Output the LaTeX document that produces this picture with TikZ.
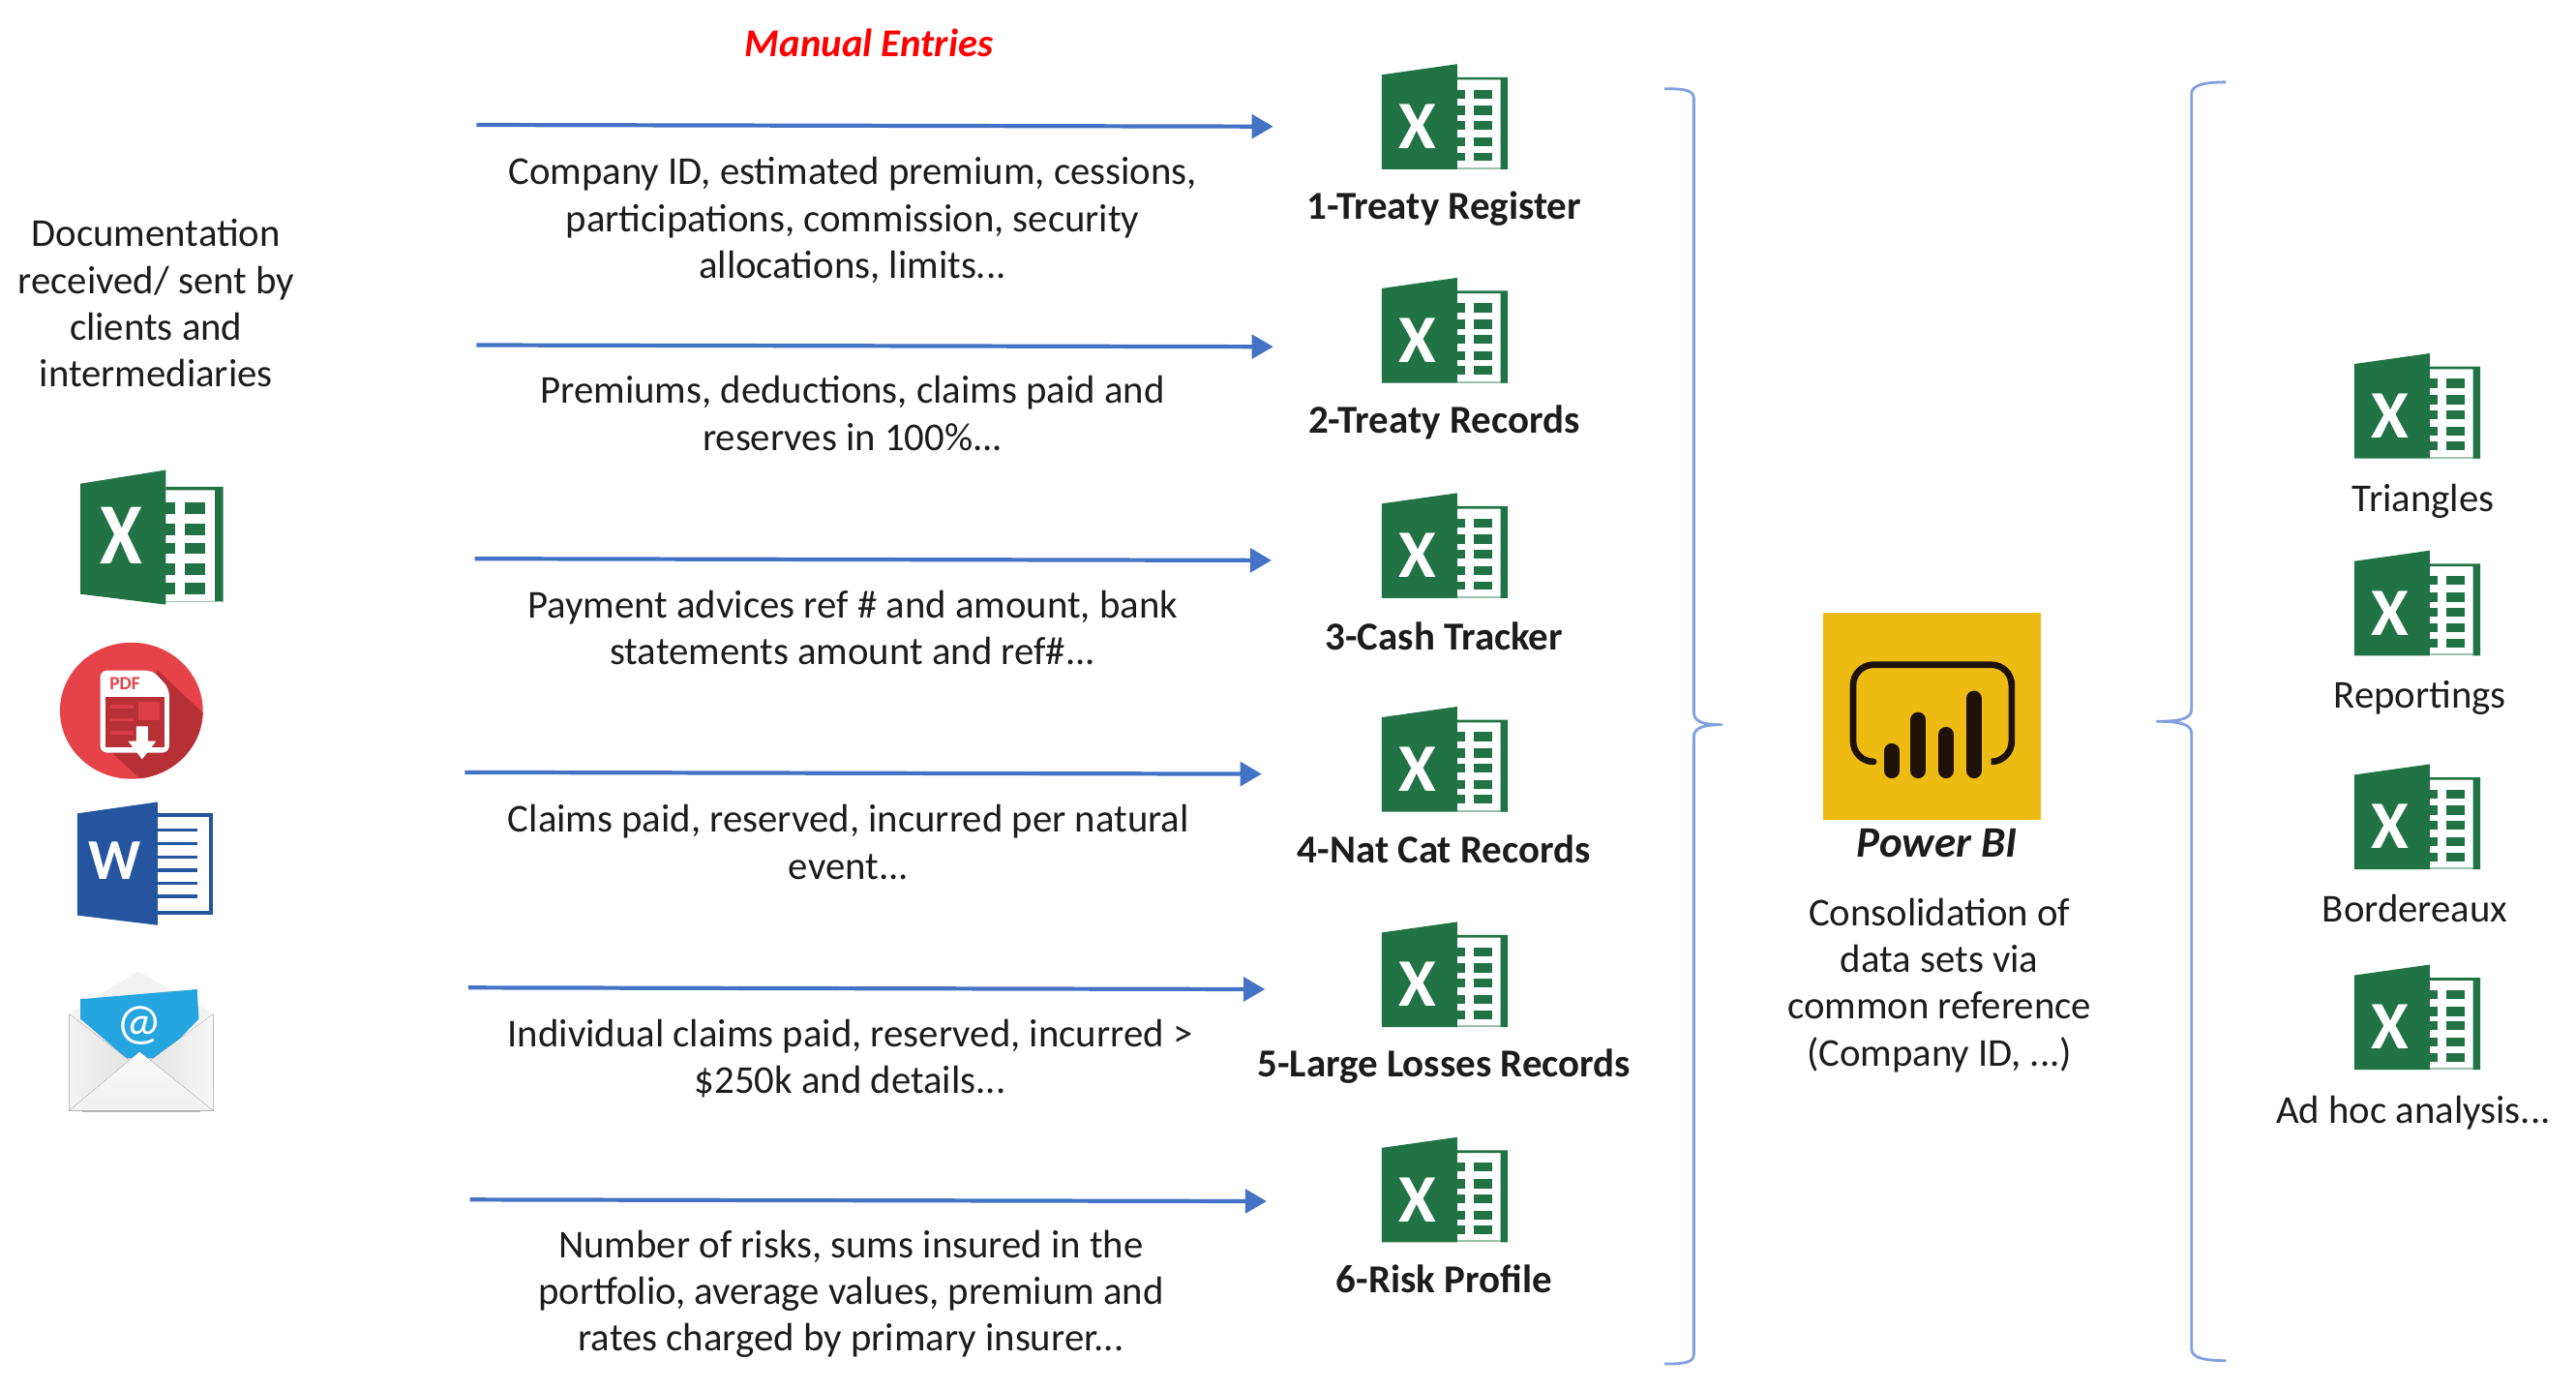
\documentclass[tikz,border=0pt]{standalone}
\usepackage{fontspec}
\setmainfont{Carlito}
\usetikzlibrary{arrows.meta,positioning}
\definecolor{xlgreen}{RGB}{33,115,70}
\definecolor{wdblue}{RGB}{38,85,160}
\definecolor{pdfred}{RGB}{229,66,74}
\definecolor{pdfdark}{RGB}{182,48,54}
\definecolor{mailblue}{RGB}{38,166,224}
\definecolor{arrowblue}{RGB}{68,114,196}
\definecolor{bracketblue}{RGB}{130,160,222}
\definecolor{pbiyellow}{RGB}{237,187,17}
\definecolor{pbidark}{RGB}{30,18,8}
\definecolor{txtblack}{RGB}{28,28,28}
\tikzset{
	xlslant/.initial=0,
	xlmarky/.initial=38,
	bodytext/.style={align=center,font=\fontsize{11.6}{13.75}\selectfont,text=txtblack,inner sep=0pt},
	xllabel/.style={bodytext,font=\fontsize{11.65}{13.75}\selectfont\bfseries},
	bracket/.style={bracketblue,line width=.8pt},
	xlicon/.pic={
		\fill[xlgreen!45] (46,62.8) rectangle (76.8,64-\pgfkeysvalueof{/tikz/xlslant}*.35);
		\fill[xlgreen] (46,8)--(76.8,8)--(76.8,64-\pgfkeysvalueof{/tikz/xlslant}*.35)--(72.4,64-\pgfkeysvalueof{/tikz/xlslant}*.35)--(72.4,9.6)--(46,9.6)--cycle;
		\fill[xlgreen] (0,6.5)--(46,0)--(46,64)--(0,64-\pgfkeysvalueof{/tikz/xlslant})--cycle;
		\foreach \ya/\yb in {15.5/21,25.3/31.2,34.7/40,44.6/49.9,53.8/59}{
			\fill[xlgreen] (46,\ya) rectangle (51,\yb);
			\fill[xlgreen] (56,\ya) rectangle (67.3,\yb);
		}
		\node[transform shape,text=white,inner sep=0pt,font=\fontsize{20}{20}\selectfont\bfseries] (-mark) at (22,\pgfkeysvalueof{/tikz/xlmarky}) {X};
	}
}
\begin{document}
\begin{tikzpicture}[x=.016977cm,y=-.016977cm,line join=round,>={Triangle[length=6.3pt,width=7pt]}]
	\useasboundingbox (0,0) rectangle (1568,845.3);
	% manual entries column
	\node[font=\fontsize{11.6}{14}\selectfont\bfseries\itshape,text=red,inner sep=0pt] (manual) at (529,26) {Manual Entries};
	\foreach \i/\xa/\ya/\xb/\yb in {1/290/76/775/77,2/290/210/775/211,3/289/340/774/341,4/283/470/768/471,5/285/601/770/602,6/286/730/771/731}{
		\coordinate (s\i) at (\xa,\ya);
		\coordinate (e\i) at (\xb,\yb);
		\draw[->,arrowblue,line width=1.2pt] (s\i)--(e\i);
	}
	\node[bodytext] (t1) at (519,134) {Company ID, estimated premium, cessions,\\participations, commission, security\\allocations, limits...};
	\node[bodytext] (t2) at (519,251.5) {Premiums, deductions, claims paid and\\reserves in 100\%...};
	\node[bodytext] (t3) at (519,382) {Payment advices ref \# and amount, bank\\statements amount and ref\#...};
	\node[bodytext] (t4) at (516.5,512.5) {Claims paid, reserved, incurred per natural\\event...};
	\node[bodytext] (t5) at (517.5,644) {Individual claims paid, reserved, incurred >\\\$250k and details...};
	\node[bodytext] (t6) at (518,787.5) {Number of risks, sums insured in the\\portfolio, average values, premium and\\rates charged by primary insurer...};
	% excel files
	\foreach \i/\yy/\ly/\lab in {1/39/127/1-Treaty Register,2/169/257/2-Treaty Records,3/300/387/3-Cash Tracker,4/430/517/4-Nat Cat Records,5/561/649/5-Large Losses Records,6/692/778/6-Risk Profile}{
		\pic (xl\i) at (841,\yy) {xlicon};
		\node[xllabel] (xlab\i) at (879,\ly) {\lab};
	}
	% documents on the left
	\node[bodytext] (docs) at (95,184.5) {Documentation\\received/ sent by\\clients and\\intermediaries};
	\pic[xscale=1.13,yscale=1.28,xlslant=5,xlmarky=31] (xldoc) at (49,286) {xlicon};
	% pdf
	\begin{scope}
		\clip (80,432.5) ellipse [x radius=43.5,y radius=41.5];
		\fill[pdfred] (30,385) rectangle (130,480);
		\fill[pdfdark] (96,408)--(130,440)--(130,480)--(92,480)--(66,456)--cycle;
	\end{scope}
	\fill[white,rounded corners=2pt] (61,408)--(93,408)--(103,419)--(103,458)--(61,458)--cycle;
	\fill[pdfdark] (64,424) rectangle (100,455);
	\fill[pdfred!80!pdfdark] (84,427) rectangle (97,438);
	\foreach \yy in {429,437,445}{\fill[pdfred!70!pdfdark] (67,\yy) rectangle (81,\yy+2);}
	\node[text=pdfred,inner sep=0pt,font=\fontsize{5.5}{6}\selectfont\bfseries] (pdflab) at (76,416) {PDF};
	\fill[white] (83,442)--(90,442)--(90,451)--(95,451)--(86.5,462)--(78,451)--(83,451)--cycle;
	% word
	\fill[wdblue] (96,495) rectangle (129.5,556.5);
	\fill[white] (96,497) rectangle (127,554.5);
	\fill[wdblue] (47,495)--(96,488)--(96,563)--(47,557)--cycle;
	\foreach \yy in {505,513.5,521.5,529.5,537.5,545.5}{\fill[wdblue] (96,\yy-1) rectangle (120,\yy+1);}
	\node[text=white,inner sep=0pt,font=\fontsize{17}{17}\selectfont\bfseries] (wdmark) at (70,524) {W};
	% mail
	\fill[black!5] (42,617)--(84,591)--(130,617)--(130,660)--(42,660)--cycle;
	\fill[mailblue] (49,608)--(120,602)--(121,620)--(98,644)--(77,644)--(49,620)--cycle;
	\node[text=white,inner sep=0pt,font=\fontsize{15}{15}\selectfont] (atmark) at (85,624) {@};
	\fill[left color=black!5,right color=black!3,middle color=black!12] (42,617)--(85,650)--(130,617)--(130,676)--(42,676)--cycle;
	\fill[top color=black!2,bottom color=black!6] (42,676)--(85,640)--(130,676)--cycle;
	\fill[black!30] (50,675.5) rectangle (122,677);
	% power bi
	\fill[pbiyellow] (1110,373) rectangle (1242,499);
	\draw[pbidark,line width=1.9pt,rounded corners=6pt] (1140,463.5)--(1128,463.5)--(1128,404.5)--(1224.5,404.5)--(1224.5,463.5)--(1212,463.5);
	\foreach \xx/\yy in {1151.5/457,1167.6/438,1184.6/447,1201.5/425}{
		\draw[pbidark,line width=4.5pt,line cap=round] (\xx,\yy)--(\xx,469);
	}
	\node[font=\fontsize{12.8}{14}\selectfont\bfseries\itshape,text=txtblack,inner sep=0pt] (pbi) at (1179,513) {Power BI};
	\node[bodytext] (cons) at (1180.5,599.5) {Consolidation of\\data sets via\\common reference\\(Company ID, ...)};
	% brackets
	\coordinate (la) at (1013,54);
	\coordinate (lb) at (1048,441);
	\coordinate (lc) at (1013,830);
	\draw[bracket] (la) .. controls (1026,54) and (1031,55) .. (1031,60)--(1031,433) .. controls (1031,438) and (1034,441) .. (lb) .. controls (1034,441) and (1031,444) .. (1031,449)--(1031,824) .. controls (1031,829) and (1026,830) .. (lc);
	\coordinate (ra) at (1355,50);
	\coordinate (rb) at (1313,439);
	\coordinate (rc) at (1355,828);
	\draw[bracket] (ra) .. controls (1341,50) and (1334,52) .. (1334,57)--(1334,431) .. controls (1334,436) and (1331,439) .. (rb) .. controls (1331,439) and (1334,442) .. (1334,447)--(1334,821) .. controls (1334,826) and (1341,828) .. (rc);
	% outputs on the right
	\foreach \i/\yy/\xx/\lab/\ly in {1/215/1475/Triangles/305,2/335/1473/Reportings/424.5,3/465/1470/Bordereaux/553,4/587/1469/{Ad hoc analysis...}/677}{
		\pic (xr\i) at (1433,\yy) {xlicon};
		\node[bodytext] (rlab\i) at (\xx,\ly) {\lab};
	}
\end{tikzpicture}
\end{document}
